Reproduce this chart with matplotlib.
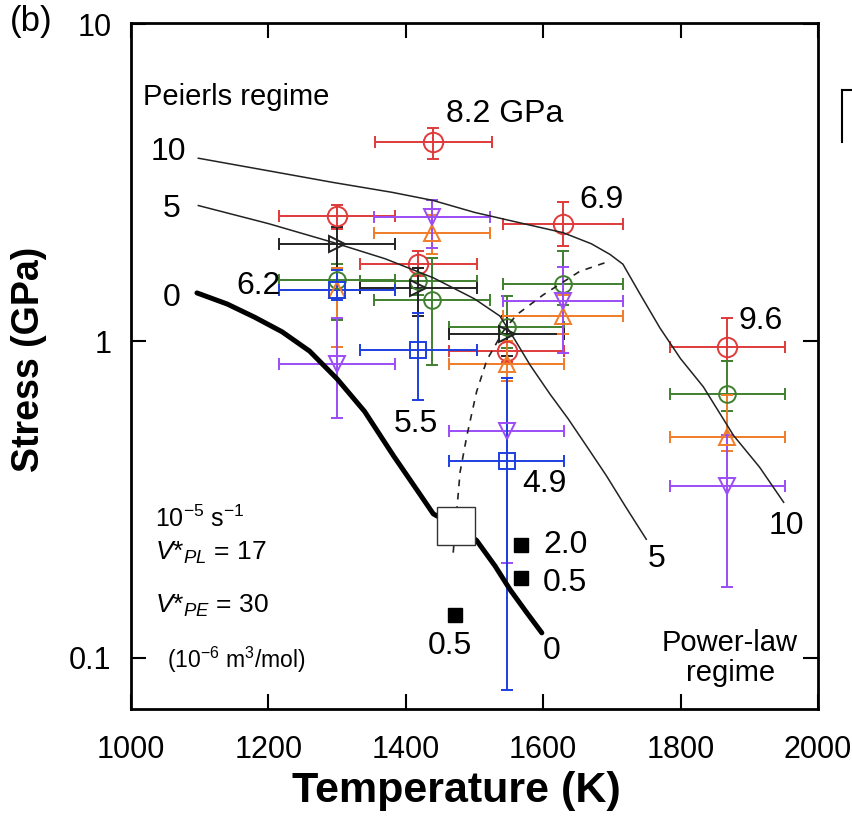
import matplotlib
matplotlib.use("Agg")
import matplotlib.pyplot as plt
from matplotlib.lines import Line2D
from matplotlib.ticker import FixedLocator, FixedFormatter, NullLocator

plt.rcParams['font.family'] = ['Liberation Sans', 'DejaVu Sans']
plt.rcParams['mathtext.fontset'] = 'custom'
plt.rcParams['mathtext.rm'] = 'Liberation Sans'
plt.rcParams['mathtext.it'] = 'Liberation Sans:italic'

# ---------------- data ----------------
# red circles
red_T = [1300, 1440, 1418, 1547, 1629, 1868]
red_s = [2.49, 4.25, 1.75, 0.93, 2.34, 0.96]
red_Terr = [84, 85, 85, 84, 87, 84]
red_lo = [2.26, 3.76, 1.60, 0.86, 2.00, 0.864]
red_hi = [2.70, 4.72, 1.93, 1.00, 2.74, 1.18]

# green circles
green_T = [1300, 1418, 1438, 1547, 1629, 1868]
green_s = [1.56, 1.55, 1.35, 1.11, 1.52, 0.68]
green_Terr = [84, 85, 84, 84, 87, 84]
green_lo = [1.17, 1.40, 0.84, 0.95, 1.30, 0.60]
green_hi = [1.75, 1.70, 1.83, 1.39, 1.93, 0.864]

# black triangles
black_T = [1300, 1418, 1547]
black_s = [2.02, 1.47, 1.05]
black_Terr = [84, 85, 84]
black_lo = [1.70, 1.20, 0.90]
black_hi = [2.30, 1.70, 1.20]

# orange triangles (up)
orange_T = [1300, 1438, 1547, 1629, 1868]
orange_s = [1.45, 2.20, 0.85, 1.20, 0.50]
orange_Terr = [84, 84, 84, 87, 84]
orange_lo = [0.96, 1.88, 0.75, 1.05, 0.45]
orange_hi = [1.70, 2.50, 1.00, 1.40, 0.675]

# purple triangles (down)
purple_T = [1300, 1438, 1547, 1629, 1868]
purple_s = [0.85, 2.46, 0.52, 1.34, 0.35]
purple_Terr = [84, 84, 84, 87, 84]
purple_lo = [0.57, 1.97, 0.20, 0.916, 0.168]
purple_hi = [1.18, 2.78, 0.763, 1.72, 0.504]

# blue squares
blue_T = [1300, 1418, 1547]
blue_s = [1.45, 0.935, 0.42]
blue_Terr = [84, 85, 84]
blue_lo = [1.35, 0.651, 0.079]
blue_hi = [1.68, 1.23, 0.763]

# model curves
curve10_T = [1098, 1200, 1294, 1380, 1440, 1500, 1560, 1629, 1670, 1697, 1716,
             1740, 1770, 1800, 1833, 1877, 1915, 1950]
curve10_s = [3.78, 3.45, 3.17, 2.95, 2.78, 2.55, 2.38, 2.20, 2.03, 1.88, 1.75,
             1.42, 1.10, 0.88, 0.718, 0.504, 0.40, 0.31]
curve5_T = [1098, 1200, 1294, 1370, 1440, 1500, 1537, 1560, 1581, 1610, 1636,
            1665, 1692, 1720, 1750]
curve5_s = [2.68, 2.35, 2.05, 1.82, 1.585, 1.36, 1.20, 1.00, 0.84, 0.68, 0.57,
            0.46, 0.376, 0.30, 0.237]
curve0_T = [1096, 1140, 1180, 1220, 1260, 1300, 1340, 1382, 1420, 1440, 1473,
            1503, 1530, 1552, 1575, 1598]
curve0_s = [1.42, 1.31, 1.19, 1.07, 0.93, 0.76, 0.60, 0.435, 0.33, 0.285, 0.26,
            0.235, 0.195, 0.164, 0.14, 0.12]
dash_T = [1469, 1479, 1489, 1503, 1518, 1542, 1561, 1600, 1653, 1697]
dash_s = [0.215, 0.386, 0.504, 0.692, 0.872, 1.076, 1.21, 1.40, 1.66, 1.79]

big_T = [1473]
big_s = [0.261]
fill_T = [1568, 1568, 1472]
fill_s = [0.228, 0.179, 0.137]

# ---------------- figure ----------------
fig = plt.figure(figsize=(8.53, 8.19), dpi=100)
ax = fig.add_axes([131/853, 1-709/819, 687/853, 686/819])
ax.set_yscale('log')
ax.set_xlim(1000, 2000)
ax.set_ylim(0.069, 10.1)

series = [
    (red_T, red_s, red_Terr, red_lo, red_hi, '#e03a3a', 'o', 14),
    (green_T, green_s, green_Terr, green_lo, green_hi, '#3f7f2f', 'o', 12),
    (black_T, black_s, black_Terr, black_lo, black_hi, '#222222', '>', 11),
    (orange_T, orange_s, orange_Terr, orange_lo, orange_hi, '#f07c28', '^', 11),
    (purple_T, purple_s, purple_Terr, purple_lo, purple_hi, '#9a4cf5', 'v', 11),
    (blue_T, blue_s, blue_Terr, blue_lo, blue_hi, '#1d3fe0', 's', 12),
]
for T, s, Terr, lo, hi, c, m, ms in series:
    yerr = [[v - l for v, l in zip(s, lo)], [h - v for v, h in zip(s, hi)]]
    ax.errorbar(T, s, xerr=Terr, yerr=yerr, fmt=m, color=c, mfc='none',
                mec=c, ms=ms, mew=1.4, elinewidth=1.4, capsize=4, capthick=1.4,
                zorder=3)

ax.plot(curve10_T, curve10_s, color='#222222', lw=1.1, zorder=4)
ax.plot(curve5_T, curve5_s, color='#222222', lw=1.1, zorder=4)
ax.plot(curve0_T, curve0_s, color='black', lw=3.6, zorder=4,
        solid_capstyle='round', solid_joinstyle='round')
ax.plot(dash_T, dash_s, color='#222222', lw=1.2, ls=(0, (4, 4)), zorder=4)
ax.plot(big_T, big_s, 's', ms=27, mfc='white', mec='#333333', mew=1.0, zorder=5)
ax.plot(fill_T, fill_s, 's', ms=10, color='black', zorder=5)

# ---------------- text ----------------
nfs = 23
ax.text(1017, 5.9, 'Peierls regime', fontsize=21, va='center', ha='left')
ax.text(1459, 5.22, '8.2 GPa', fontsize=nfs, va='center', ha='left')
ax.text(1653, 2.79, '6.9', fontsize=nfs, va='center', ha='left')
ax.text(1884, 1.155, '9.6', fontsize=nfs, va='center', ha='left')
ax.text(1154, 1.49, '6.2', fontsize=nfs, va='center', ha='left')
ax.text(1382, 0.549, '5.5', fontsize=nfs, va='center', ha='left')
ax.text(1569, 0.354, '4.9', fontsize=nfs, va='center', ha='left')
ax.text(1600, 0.228, '2.0', fontsize=nfs, va='center', ha='left')
ax.text(1600, 0.173, '0.5', fontsize=nfs, va='center', ha='left')
ax.text(1464, 0.109, '0.5', fontsize=nfs, va='center', ha='center')
ax.text(1054, 3.95, '10', fontsize=nfs, va='center', ha='center')
ax.text(1059, 2.61, '5', fontsize=nfs, va='center', ha='center')
ax.text(1059, 1.37, '0', fontsize=nfs, va='center', ha='center')
ax.text(1765, 0.205, '5', fontsize=nfs, va='center', ha='center')
ax.text(1954, 0.261, '10', fontsize=nfs, va='center', ha='center')
ax.text(1612, 0.105, '0', fontsize=nfs, va='center', ha='center')
ax.text(1872, 0.1, 'Power-law\nregime', fontsize=21, va='center', ha='center',
        multialignment='center', linespacing=1.1)
ax.text(1035, 0.274, r'10$^{-5}$ s$^{-1}$', fontsize=18, va='center', ha='left')
ax.text(1035, 0.215, r'$V$*$_{PL}$ = 17', fontsize=19, va='center', ha='left')
ax.text(1035, 0.146, r'$V$*$_{PE}$ = 30', fontsize=19, va='center', ha='left')
ax.text(1052, 0.0985, r'(10$^{-6}$ m$^{3}$/mol)', fontsize=16.5, va='center', ha='left')

# ---------------- axes styling ----------------
ax.xaxis.set_major_locator(FixedLocator([1000, 1200, 1400, 1600, 1800, 2000]))
ax.yaxis.set_major_locator(FixedLocator([0.1, 1, 10]))
ax.yaxis.set_major_formatter(FixedFormatter(['0.1', '1', '10']))
ax.yaxis.set_minor_locator(NullLocator())
ax.xaxis.set_minor_locator(NullLocator())
ax.tick_params(axis='both', which='major', direction='in', length=11, width=1.5,
               top=True, right=True, labelsize=22)
ax.tick_params(axis='x', pad=19)
ax.tick_params(axis='y', pad=14)
for sp in ax.spines.values():
    sp.set_linewidth(2.0)

ax.set_xlabel('Temperature (K)', fontsize=31, fontweight='bold')
ax.set_ylabel('Stress (GPa)', fontsize=27, fontweight='bold')
ax.xaxis.set_label_coords(0.473, -0.09)
ax.yaxis.set_label_coords(-0.122, 0.51)

fig.text(10/853, 1-22/819, '(b)', fontsize=25, ha='left', va='center')

# fragment of neighbouring panel frame
fig.add_artist(Line2D([842/853, 842/853], [1-142/819, 1-90/819], color='black', lw=1.5,
                      transform=fig.transFigure))
fig.add_artist(Line2D([842/853, 1.0], [1-90/819, 1-90/819], color='black', lw=1.5,
                      transform=fig.transFigure))

fig.savefig('out.png', dpi=100)
